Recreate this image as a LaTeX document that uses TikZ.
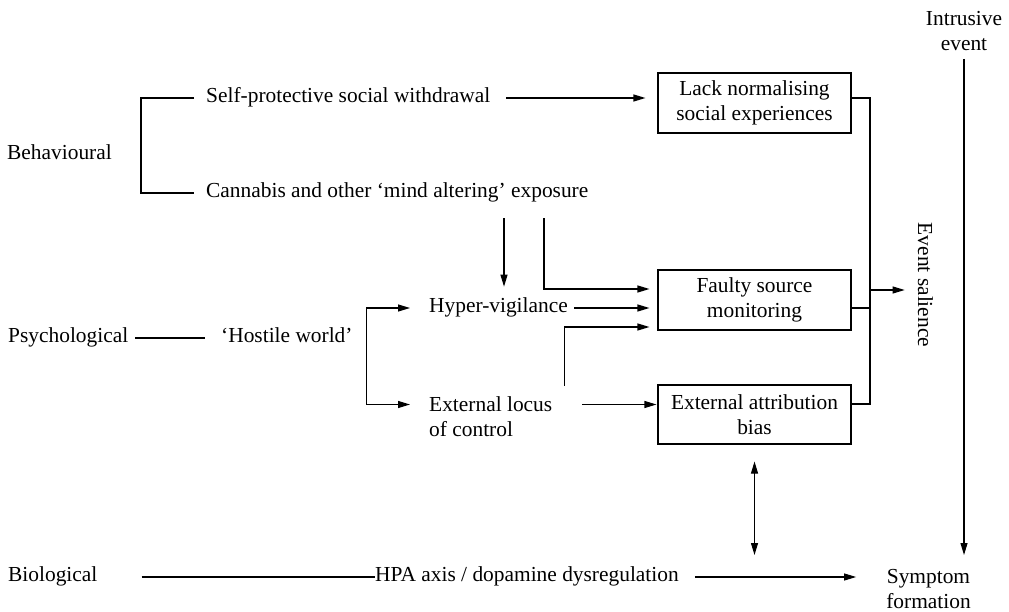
\documentclass[tikz,border=0pt]{standalone}
\usepackage{fontspec}
\setmainfont{Liberation Serif}
\usetikzlibrary{arrows.meta}
\newcommand\diagfont{\fontsize{21.4}{25}\selectfont}
\begin{document}
\begin{tikzpicture}[x=1pt,y=-1pt,
  lbl/.style={font=\diagfont, inner sep=0pt, text height=15pt, text depth=5.3pt},
  lblm/.style={font=\diagfont, inner sep=0pt},
  box/.style={draw, line width=1.1pt, font=\diagfont, inner sep=0pt, minimum width=193pt, minimum height=60pt, align=center},
  conn/.style={line width=1.1pt},
  arr/.style={conn, -{Triangle[length=12pt,width=7pt]}},
  arrtwo/.style={conn, {Triangle[length=12pt,width=7pt]}-{Triangle[length=12pt,width=7pt]}}]
\useasboundingbox (0,0) rectangle (1009,612);

% nodes
\node[lbl, anchor=west] (beh) at (7,155) {Behavioural};
\node[lbl, anchor=west] (sp) at (206,98) {Self-protective social withdrawal};
\node[lbl, anchor=west] (can) at (206,193) {Cannabis and other ‘mind altering’ exposure};
\node[box] (lack) at (754.5,103) {Lack normalising\\social experiences};
\node[box] (fsm) at (754.5,300) {Faulty source\\monitoring};
\node[box, minimum height=59pt] (eab) at (754.5,414.5) {External attribution\\bias};
\node[lbl, anchor=west] (psy) at (8,338) {Psychological};
\node[lbl, anchor=west] (hw) at (221,338) {‘Hostile world’};
\node[lbl, anchor=west] (hv) at (429,308) {Hyper-vigilance};
\node[lblm, align=left, anchor=north west] (elc) at (429,396.5) {External locus\\of control};
\node[lbl, anchor=west] (bio) at (8,577) {Biological};
\node[lbl, anchor=west] (hpa) at (375,577) {HPA axis / dopamine dysregulation};
\node[lblm, align=center, anchor=north] (sym) at (928.5,569.5) {Symptom\\formation};
\node[lblm, align=center, anchor=north] (ie) at (964,11) {Intrusive\\event};
\node[lbl, rotate=-90] (sal) at (923,285) {Event salience};

% junction coordinates
\coordinate (jb) at (870,404);
\coordinate (jm) at (870,290);
\coordinate (hb) at ([xshift=14pt]hw.east);
\coordinate (c1) at ([xshift=298pt,yshift=-15pt]can.south west);
\coordinate (c2) at ([xshift=338pt,yshift=-15pt]can.south west);
\coordinate (eabin) at ([yshift=10pt]eab.west);

% behavioural bracket
\draw[conn] ([xshift=-12pt]sp.west) -- ++(-53,0) |- ([xshift=-12pt]can.west);
\draw[arr, shorten >=12pt] ([xshift=16pt]sp.east) -- (lack.west |- sp.east);

% bus to event salience
\draw[conn] ([yshift=5pt]lack.east) -| (jb) -- ([yshift=10.5pt]eab.east);
\draw[conn] ([yshift=-8pt]fsm.east) -- ++(19,0);
\draw[arr, shorten >=8pt] (jm) -- (jm -| sal.south);

% cannabis arrows
\draw[arr, shorten >=11pt] (c1) -- (c1 |- hv.north);
\draw[arr, shorten >=8pt] (c2) |- ([yshift=11pt]fsm.west);

% psychological
\draw[conn] ([xshift=7pt]psy.east) -- ([xshift=-16pt]hw.west);
\draw[arrtwo, shorten <=19pt, shorten >=19pt] (hv.west) -| (hb) |- ([yshift=-8pt]elc.north west);
\draw[arr, shorten >=8pt] ([xshift=6pt]hv.east) -- (hv.east -| fsm.west);
\draw[arr, shorten >=8pt] ([xshift=12pt,yshift=11pt]elc.north east) |- ([yshift=-27pt]fsm.west);
\draw[arr, shorten >=1pt, shorten <=30pt] (elc.north east |- eabin) -- (eabin);

% biological
\draw[conn] ([xshift=44pt]bio.east) -- (hpa.west);
\draw[arr, shorten >=30pt] ([xshift=16pt]hpa.east) -- (hpa.east -| sym.west);
\draw[arrtwo, shorten >=14.5pt] ([yshift=-17pt]eab.south) -- (eab.south |- sym.north);

% intrusive event
\draw[arr, shorten >=14.5pt] ([yshift=-8pt]ie.south) -- (ie.south |- sym.north);
\end{tikzpicture}
\end{document}
